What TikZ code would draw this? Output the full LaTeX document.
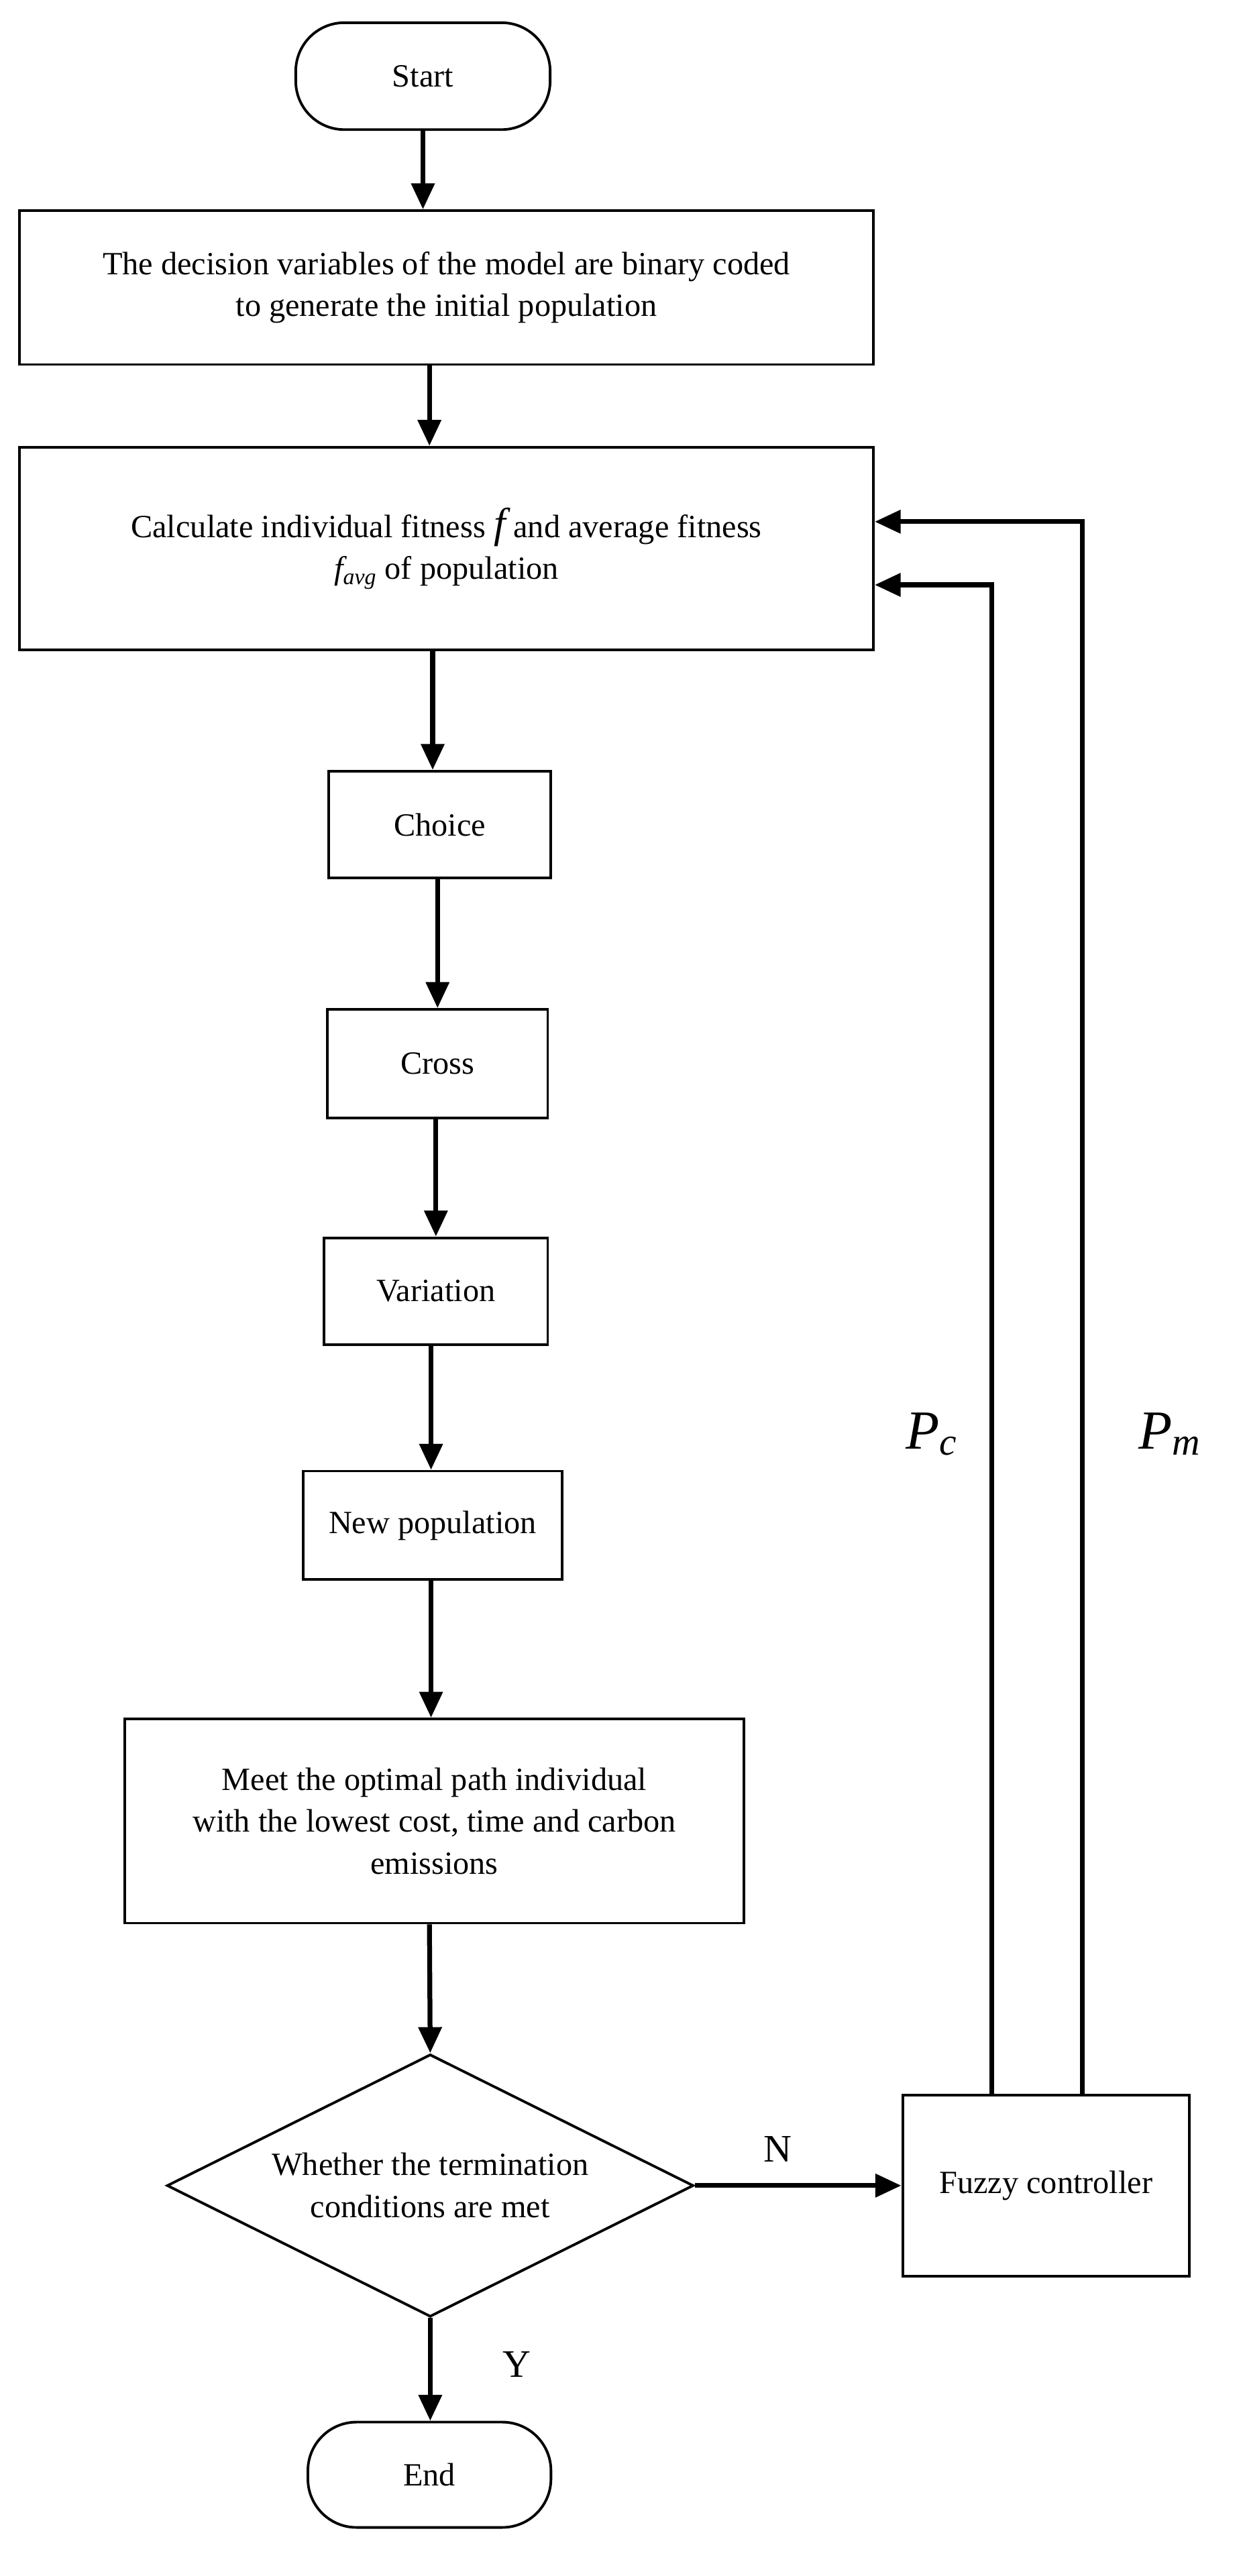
\documentclass[tikz,border=0pt]{standalone}
\usepackage{fontspec}
\setmainfont{Liberation Serif}
\usetikzlibrary{shapes.geometric,arrows.meta}
\begin{document}
\begin{tikzpicture}[x=1pt,y=-1pt,
  box/.style={draw,line width=1.6pt,inner sep=0pt,align=center,font=\fontsize{20}{26}\selectfont},
  term/.style={box,rounded corners=30pt},
  arr/.style={line width=3pt,-{Triangle[length=16pt,width=14pt]}},
  ln/.style={line width=3pt}]
\useasboundingbox (0,0) rectangle (768,1590);
\node[term,minimum width=157pt,minimum height=66pt] (start) at (261,47) {Start};
\node[box,minimum width=527pt,minimum height=95pt] (b1) at (275.5,177.5) {The decision variables of the model are binary coded\\to generate the initial population};
\node[box,minimum width=527pt,minimum height=125pt] (b2) at (275.5,338.5) {Calculate individual fitness {\fontsize{26}{26}\selectfont\itshape f} and average fitness\\{\itshape f\textsubscript{avg}} of population};
\node[box,minimum width=137pt,minimum height=66pt] (ch) at (271.5,509) {Choice};
\node[box,minimum width=136pt,minimum height=67pt] (cr) at (270,656.5) {Cross};
\node[box,minimum width=138pt,minimum height=66pt] (va) at (269,797) {Variation};
\node[box,minimum width=160pt,minimum height=67pt] (np) at (267,941.5) {New population};
\node[box,minimum width=382pt,minimum height=126pt] (me) at (268,1124) {Meet the optimal path individual\\with the lowest cost, time and carbon\\emissions};
\node[box,diamond,aspect=2,minimum width=325pt,minimum height=162pt] (di) at (265.5,1349) {Whether the termination\\conditions are met};
\node[box,minimum width=177pt,minimum height=112pt] (fz) at (645.5,1349) {Fuzzy controller};
\node[term,minimum width=150pt,minimum height=65pt] (end) at (265,1527.5) {End};
\draw[arr] (start.south) -- (b1.north -| start.south);
\draw[arr] (b1.south -| 265,0) -- (b2.north -| 265,0);
\draw[arr] (b2.south -| 267,0) -- (ch.north -| 267,0);
\draw[arr] (ch.south -| 270,0) -- (cr.north -| 270,0);
\draw[arr] (cr.south -| 269,0) -- (va.north -| 269,0);
\draw[arr] (va.south -| 266,0) -- (np.north -| 266,0);
\draw[arr] (np.south -| 266,0) -- (me.north -| 266,0);
\draw[arr] (me.south -| 265,0) -- (di.north);
\draw[arr] (di.east) -- (fz.west |- di.east) node[pos=0.4,above=10pt,font=\fontsize{24}{24}\selectfont]{N};
\draw[arr] (di.south) -- (end.north -| di.south) node[pos=0.45,right=40pt,font=\fontsize{24}{24}\selectfont]{Y};
\draw[arr] (fz.north -| 612,0) -- (612,361) -- (b2.east |- 0,361);
\draw[arr] (fz.north -| 668,0) -- (668,322) -- (b2.east |- 0,322);
\node[font=\fontsize{34}{34}\selectfont\itshape] (pc) at (575,885) {P\textsubscript{c}};
\node[font=\fontsize{34}{34}\selectfont\itshape] (pm) at (722,885) {P\textsubscript{m}};
\end{tikzpicture}
\end{document}
